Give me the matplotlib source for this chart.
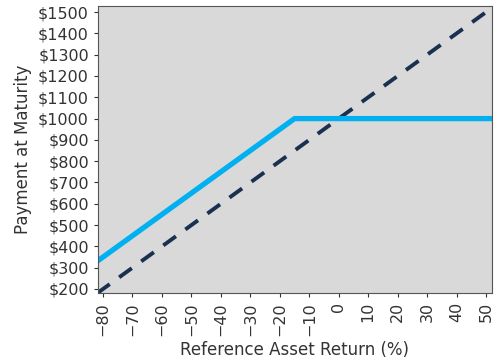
import matplotlib
matplotlib.use("Agg")
import matplotlib.pyplot as plt
from matplotlib.ticker import FuncFormatter

note_x = [-82, -15, 52]
note_y = [330, 1000, 1000]
ref_x = [-82, 52]
ref_y = [180, 1520]
xticks = [-80, -70, -60, -50, -40, -30, -20, -10, 0, 10, 20, 30, 40, 50]
yticks = list(range(200, 1501, 100))

fig = plt.figure(figsize=(5, 3.6), dpi=100)
ax = fig.add_axes([0.196, 0.186, 0.788, 0.797])
ax.set_facecolor("#d9d9d9")
ax.plot(ref_x, ref_y, color="#1a3050", lw=2.8, ls=(0, (4, 3)))
ax.plot(note_x, note_y, color="#00b0f0", lw=3.8, solid_capstyle="butt")
ax.set_xlim(-81.7, 52)
ax.set_ylim(181, 1528)
ax.set_xticks(xticks)
ax.set_yticks(yticks)
ax.set_xticklabels([str(v).replace("-", "\u2212") for v in xticks], rotation=90)
ax.yaxis.set_major_formatter(FuncFormatter(lambda v, p: f"${int(v)}"))
ax.tick_params(colors="#333333", labelsize=11.5, length=3, width=0.8)
for s in ax.spines.values():
    s.set_color("#555555")
    s.set_linewidth(0.8)
ax.set_xlabel("Reference Asset Return (%)", fontsize=12, color="#333333")
ax.set_ylabel("Payment at Maturity", fontsize=12, color="#333333")
fig.savefig("out.png", dpi=100)
